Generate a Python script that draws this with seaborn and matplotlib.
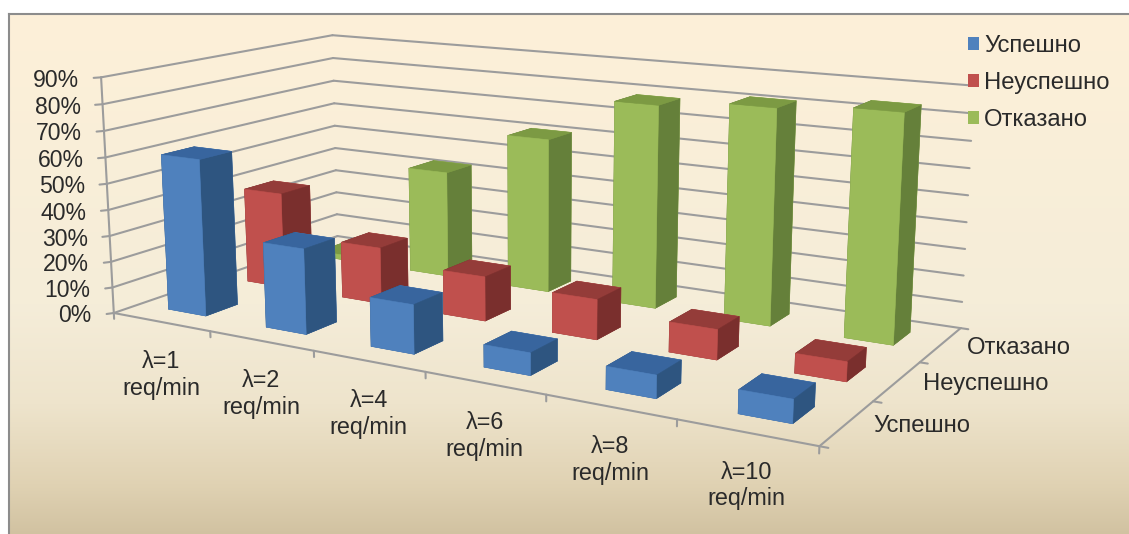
import numpy as np
import pandas as pd
import matplotlib
matplotlib.use('Agg')
import matplotlib.pyplot as plt
from matplotlib.patches import Patch
from mpl_toolkits.mplot3d import proj3d
import seaborn as sns

W, H = 1129, 534
sns.set_theme(style='white')
plt.rcParams['font.family'] = ['Liberation Sans', 'DejaVu Sans']
TXT = '#2a2a2a'
GRID = '#9c9c9c'

rates = ['λ=1\nreq/min', 'λ=2\nreq/min', 'λ=4\nreq/min', 'λ=6\nreq/min', 'λ=8\nreq/min', 'λ=10\nreq/min']
series = ['Успешно', 'Неуспешно', 'Отказано']
success = [60, 32, 18, 8, 8, 8]
failed = [38, 22, 17, 15, 11, 7]
refused = [2, 43, 61, 78.5, 81.5, 84]
pct_ticks = list(range(0, 100, 10))

front = sns.color_palette(['#4f81bd', '#c0504d', '#9bbb59'])
side = sns.color_palette(['#2e5580', '#7a2f2d', '#65803a'])
top = sns.color_palette(['#38659e', '#943c39', '#7c9a43'])

table = pd.DataFrame({'rate': rates, series[0]: success, series[1]: failed, series[2]: refused}).set_index('rate')

fig = plt.figure(figsize=(W / 100, H / 100), dpi=100, facecolor='white')

# Panel background: vertical cream-to-tan gradient with a thin grey frame
bg = fig.add_axes([9 / W, 0, 1 - 9 / W, 1 - 14 / H], zorder=-1)
stops_y = [0, 290, 390, 470, 520]
stops_c = np.array([[253, 240, 216], [245, 237, 217], [238, 228, 204], [224, 210, 179], [209, 194, 161]], float)
rows = np.arange(520)
grad = np.stack([np.interp(rows, stops_y, stops_c[:, k]) for k in range(3)], axis=1)[:, None, :] / 255
bg.imshow(grad, aspect='auto', interpolation='bilinear')
bg.set_xticks([])
bg.set_yticks([])
for name, sp in bg.spines.items():
    sp.set_visible(name in ('top', 'left'))
    sp.set_color('#8c8c8c')
    sp.set_linewidth(1.5)

# Perspective axes for the clustered 3D columns
ax = fig.add_axes([0.07496441, -0.21559578, 0.76992234, 1.62779460], projection='3d',
                  proj_type='persp', focal_length=0.3748, computed_zorder=False)
ax.patch.set_alpha(0)
ax.set_axis_off()
ax.set_xlim3d(0, 6, view_margin=0)
ax.set_ylim3d(0, 3, view_margin=0)
ax.set_zlim3d(0, 90, view_margin=0)
ax.view_init(elev=12.652, azim=-59.752, roll=0)
ax.set_box_aspect((3.1430, 1.5776, 1.0))
ax.apply_aspect()


def proj(x, y, z):
    px, py, _ = proj3d.proj_transform(x, y, z, ax.get_proj())
    return float(px), float(py)


# Walls, floor edges and ticks
line = dict(color=GRID, lw=1.5, zorder=1, clip_on=False)
for z in pct_ticks:
    ax.plot([0, 0], [0, 3], [z, z], **line)
    ax.plot([0, 6], [3, 3], [z, z], **line)
    ax.plot([-0.03, 0], [-0.05, 0], [z, z], **line)
    ax.annotate(f'{z}%', proj(0, 0, z), xytext=(-22, -3), textcoords='offset pixels', ha='right', va='center',
                fontsize=16.6, color=TXT, annotation_clip=False, zorder=50)
ax.plot([0, 0], [0, 0], [0, 90], **line)
ax.plot([0, 6], [0, 0], [0, 0], **line)
ax.plot([6, 6], [0, 3], [0, 0], **line)
for i in range(7):
    ax.plot([i, i], [0, 0], [0, -2.3], **line)
for j in range(4):
    ax.plot([6, 6.06], [j, j], [0, 0], **line)

# Columns, painted from the back row forward and left to right
bar = 0.39
for j in range(2, -1, -1):
    for i, v in enumerate(table[series[j]]):
        faces = [top[j], top[j], front[j], front[j], side[j], side[j]]
        ax.bar3d(i + 0.5 - bar / 2, j + 0.5 - bar / 2, 0, bar, bar, v, color=faces, edgecolor=faces,
                 linewidth=0.4, shade=False, zorder=10 + (2 - j) * 10 + i, clip_on=False)

for i, r in enumerate(rates):
    ax.annotate(r, proj(i + 0.5, 0, 0), xytext=(0, -53), textcoords='offset pixels', ha='center', va='center',
                fontsize=16.8, color=TXT, linespacing=1.2, annotation_clip=False, zorder=50)
for j, s_ in enumerate(series):
    ax.annotate(s_, proj(6, j + 0.5, 0), xytext=(26, -3), textcoords='offset pixels', ha='left', va='center',
                fontsize=17.2, color=TXT, annotation_clip=False, zorder=50)

handles = [Patch(facecolor=front[k], edgecolor='none', label=series[k]) for k in range(3)]
fig.legend(handles=handles, loc='upper left', bbox_to_anchor=(967.5 / W, 1 - 35 / H), frameon=False,
           prop={'size': 17.2}, labelcolor=TXT, handlelength=0.5, handleheight=0.5, handletextpad=0.2,
           labelspacing=0.63, borderpad=0, borderaxespad=0)

fig.savefig('out.png', dpi=100)
